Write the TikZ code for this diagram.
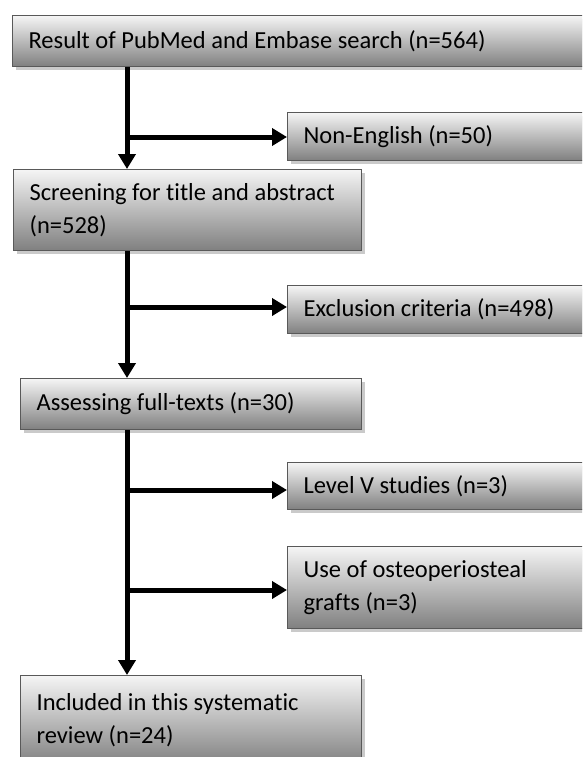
\documentclass[tikz,border=0pt]{standalone}
\usepackage{fontspec}
\setmainfont{Carlito}[Ligatures=NoCommon]
\usetikzlibrary{arrows.meta, positioning, shadows}
\tikzset{
  stagebox/.style={
    rectangle,
    draw=black!65,
    line width=1.2pt,
    top color=black!4,
    bottom color=black!50,
    drop shadow={shadow xshift=3pt, shadow yshift=-3pt, fill=black!35, opacity=0.6},
    anchor=north west,
    align=flush left,
    inner xsep=16pt,
    inner ysep=0pt,
    font=\fontsize{24.5}{33}\selectfont
  },
  flowarrow/.style={-{Triangle[length=15pt, width=17pt]}, line width=5pt}
}

\begin{document}
\begin{tikzpicture}[x=1pt, y=-1pt]
  \useasboundingbox (0,0) rectangle (582,757);
  \clip (0,0) rectangle (582,757);

  \node[stagebox, text width=556pt, minimum height=51pt] (search) at (12,15) {Result of PubMed and Embase search (n=564)};
  \node[stagebox, text width=281pt, minimum height=48pt] (nonenglish) at (287,112) {Non-English (n=50)};
  \node[stagebox, text width=316pt, minimum height=81pt] (screen) at (13,169) {Screening for title and abstract\\(n=528)};
  \node[stagebox, text width=281pt, minimum height=48pt] (exclusion) at (287,285) {Exclusion criteria (n=498)};
  \node[stagebox, text width=309pt, minimum height=51pt] (assess) at (20,378) {Assessing full-texts (n=30)};
  \node[stagebox, text width=281pt, minimum height=47pt] (levelv) at (287,462) {Level V studies (n=3)};
  \node[stagebox, text width=281pt, minimum height=82pt] (grafts) at (287,546) {Use of osteoperiosteal\\grafts (n=3)};
  \node[stagebox, text width=309pt, minimum height=90pt] (included) at (20,675) {Included in this systematic\\review (n=24)};

  \coordinate (j1) at (127,137);
  \coordinate (j2) at (127,307);
  \coordinate (j3) at (127,490);
  \coordinate (j4) at (127,590);

  \draw[flowarrow] (search.south -| j1) -- (screen.north -| j1);
  \draw[flowarrow] (j1) -- (j1 -| nonenglish.west);
  \draw[flowarrow] (screen.south -| j1) -- (assess.north -| j1);
  \draw[flowarrow] (j2) -- (j2 -| exclusion.west);
  \draw[flowarrow] (assess.south -| j1) -- (included.north -| j1);
  \draw[flowarrow] (j3) -- (j3 -| levelv.west);
  \draw[flowarrow] (j4) -- (j4 -| grafts.west);
\end{tikzpicture}
\end{document}
